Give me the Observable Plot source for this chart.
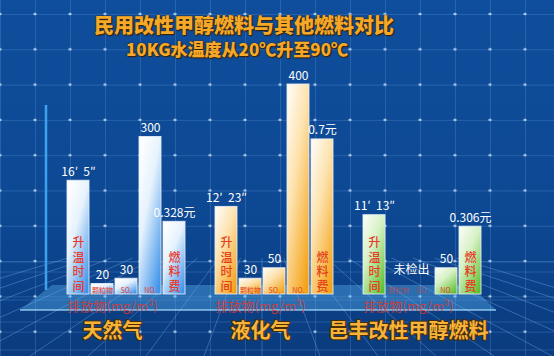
<!DOCTYPE html>
<html><head><meta charset="utf-8">
<script src="https://cdn.jsdelivr.net/npm/d3@7"></script>
<script src="https://cdn.jsdelivr.net/npm/@observablehq/plot@0.6"></script>
<style>
html,body{margin:0;padding:0;background:#0c4590;}
#wrap{position:relative;width:554px;height:356px;overflow:hidden;
 background:
  radial-gradient(circle, rgba(210,235,255,0.75) 1.1px, transparent 1.7px) -17.5px -3.65px/35px 35.3px,
  linear-gradient(to right, rgba(110,165,230,0.25) 1px, transparent 1px) 0 0/35px 35.3px,
  linear-gradient(to bottom, rgba(110,165,230,0.25) 1px, transparent 1px) 0 14px/35px 35.3px,
  linear-gradient(180deg, #0f4e9c 0%, #0d4893 60%, #0a3b7e 100%);
 font-family:"Noto Sans CJK SC","Noto Sans",sans-serif;}
#deco,#chart svg{position:absolute;left:0;top:0;}
.t{position:absolute;transform:translateX(-50%);white-space:nowrap;color:#f6a828;font-weight:900;
 text-shadow:1px 1px 1px #3a2000,0 0 2px #3a2000;}
#t1{left:244px;top:14px;font-size:20px;line-height:21px;}
#t2{left:237px;top:40px;font-size:17px;line-height:18px;}
</style></head>
<body>
<div id="wrap">
  <svg id="deco" width="554" height="356"></svg>
  <div id="chart"></div>
  <div class="t" id="t1">民用改性甲醇燃料与其他燃料对比</div>
  <div class="t" id="t2">10KG水温度从20℃升至90℃</div>
</div>
<script>
// ---- data ----
const groups = ["天然气", "液化气", "邑丰改性甲醇燃料"];
const metricKeys = ["time", "pm", "so2", "nox", "fuel"];
const metricNames = ["升温时间", "颗粒物", "SO₂", "NOₓ", "燃料费"];
const timeSec = [965, 743, 673];        // 16′5″, 12′23″, 11′13″
const pmValues = [20, 30, null];        // mg/m³, null = 未检出
const so2Values = [30, 50, null];
const noxValues = [300, 400, 50];
const fuelYuan = [0.328, 0.7, 0.306];
const emissionUnit = "排放物(mg/m³)";
const notDetected = "未检出";

// display normalisation of the non-emission measures onto the shared y axis
const unitsPerSecond = 0.2245;
const unitsPerYuan = 422;

const barGrad = ["url(#gBlue)", "url(#gOrange)", "url(#gGreen)"];
const inBarColor = ["#e8392c", "#e4401a", "#e63a26"];

const rows = [];
groups.forEach((g, i) => {
  const vals = [timeSec[i], pmValues[i], so2Values[i], noxValues[i], fuelYuan[i]];
  metricKeys.forEach((k, j) => {
    const v = vals[j];
    let y = v, label = v == null ? null : String(v);
    if (k === "time") { y = v * unitsPerSecond; label = `${Math.floor(v / 60)}′  ${v % 60}″`; }
    if (k === "fuel") { y = v * unitsPerYuan; label = `${v}元`; }
    rows.push({group: g, gi: i, key: k, metric: metricNames[j], value: v, y, label});
  });
});
const bars = rows.filter(d => d.value != null);
const emis = rows.filter(d => ["pm", "so2", "nox"].includes(d.key));
const inBar = rows.filter(d => d.key === "time" || d.key === "fuel");
const missing = rows.filter(d => d.value == null && d.key === "so2");

// ---- decoration (floor, platform, axis line) ----
const deco = d3.select("#deco");
const vx = 262, vy = 200;
for (let bx = -260; bx <= 800; bx += 58) {
  const t = (258 - vy) / (356 - vy);
  deco.append("line").attr("x1", vx + (bx - vx) * t).attr("y1", 258).attr("x2", bx).attr("y2", 356)
    .attr("stroke", "rgba(130,185,245,0.35)").attr("stroke-width", 1);
}
[262, 272, 300, 322, 350].forEach(y => deco.append("line").attr("x1", 0).attr("x2", 554).attr("y1", y).attr("y2", y)
  .attr("stroke", "rgba(130,185,245,0.22)"));
deco.append("polygon").attr("points", "52,285 470,285 496,310 20,310")
  .attr("fill", "rgba(95,185,245,0.38)");
deco.append("line").attr("x1", 20).attr("x2", 496).attr("y1", 310).attr("y2", 310)
  .attr("stroke", "rgba(170,225,255,0.8)").attr("stroke-width", 1.5);
deco.append("line").attr("x1", 46).attr("x2", 46).attr("y1", 105).attr("y2", 290)
  .attr("stroke", "#3aa2ee").attr("stroke-width", 2.5);

// ---- chart ----
const font = "Noto Sans CJK SC";
const plot = Plot.plot({
  width: 554, height: 356,
  marginLeft: 65, marginRight: 71, marginTop: 84, marginBottom: 62,
  style: {background: "transparent", overflow: "visible", fontFamily: font},
  fx: {domain: groups, paddingInner: 0.176, paddingOuter: 0, axis: null, label: null},
  x: {domain: metricKeys, paddingInner: 0.1, paddingOuter: 0, axis: null},
  y: {domain: [0, 400], axis: null},
  color: {type: "identity"},
  marks: [
    Plot.barY(bars, {fx: "group", x: "key", y: "y", fill: d => barGrad[d.gi],
      stroke: "#e4eefa", strokeWidth: 1, strokeOpacity: 0.85}),
    Plot.text(bars, {fx: "group", x: "key", y: "y", text: "label", lineAnchor: "bottom", dy: -5,
      fill: "white", fontSize: 12}),
    Plot.text(missing, {fx: "group", x: "key", y: () => 0, text: () => notDetected, dx: -11, dy: -24,
      fill: "white", fontSize: 12}),
    Plot.text(inBar, {fx: "group", x: "key", y: () => 0, text: d => [...d.metric].join("\n"),
      lineAnchor: "bottom", lineHeight: 1.2, dy: -4, fontSize: 12, fontWeight: 500,
      fill: d => inBarColor[d.gi]}),
    Plot.text(emis, {fx: "group", x: "key", y: () => 0, text: "metric", lineAnchor: "middle", dy: -4,
      fontSize: 7, fill: d => inBarColor[d.gi], fillOpacity: d => d.value == null ? 0.6 : 1}),
    Plot.text(groups, {fx: d => d, frameAnchor: "bottom", lineAnchor: "middle", dx: -14, dy: 12,
      text: () => emissionUnit, fontSize: 13, fill: "#e2382c", fillOpacity: 0.8}),
    Plot.text(groups, {fx: d => d, frameAnchor: "bottom", lineAnchor: "middle", dx: -14, dy: 37,
      text: d => d, fontSize: 20, fontWeight: "bold", fill: "#f6b53a", stroke: "#4a2c06",
      strokeWidth: 2, paintOrder: "stroke"})
  ]
});
const defs = d3.select(plot).insert("defs", ":first-child");
const grads = [
  ["gBlue", "#ffffff", "#e6f2fd", "#3f94ea"],
  ["gOrange", "#fffaf0", "#fde2ad", "#f4a116"],
  ["gGreen", "#f6fcf2", "#d6f1c4", "#5cc02c"]
];
grads.forEach(([id, a, b, c]) => {
  const g = defs.append("linearGradient").attr("id", id)
    .attr("x1", 0.15).attr("y1", 0).attr("x2", 0.85).attr("y2", 1);
  g.append("stop").attr("offset", 0).attr("stop-color", a);
  g.append("stop").attr("offset", 0.4).attr("stop-color", b);
  g.append("stop").attr("offset", 1).attr("stop-color", c);
});
document.getElementById("chart").appendChild(plot);
</script>
</body></html>
